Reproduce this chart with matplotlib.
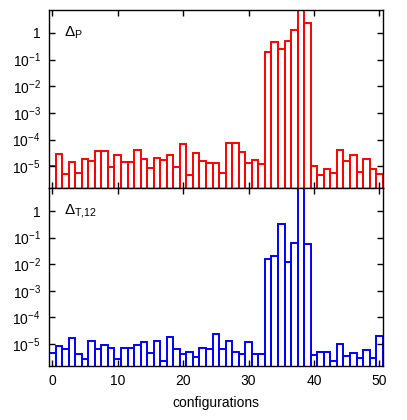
import matplotlib
matplotlib.use("Agg")
import matplotlib.pyplot as plt
from matplotlib.ticker import FixedLocator, FuncFormatter, NullLocator
import numpy as np

plt.rcParams['font.family'] = ['Liberation Sans', 'DejaVu Sans']
plt.rcParams['mathtext.fontset'] = 'custom'
plt.rcParams['mathtext.rm'] = 'Liberation Sans'
plt.rcParams['mathtext.it'] = 'Liberation Sans:italic'
plt.rcParams['mathtext.bf'] = 'Liberation Sans:bold'

configs = list(range(51))

# log10 of the values
log_delta_p = [-5.0, -4.54, -5.3, -4.85, -5.24, -4.71, -4.8, -4.44, -4.44, -5.01,
               -4.59, -4.85, -4.85, -4.39, -4.71, -5.06, -4.69, -4.75, -4.56, -5.04,
               -4.16, -5.33, -4.5, -4.78, -4.88, -4.875, -5.26, -4.11, -4.11, -4.475,
               -4.875, -4.75, -4.925, -0.71, -0.34, -0.59, -0.3, 0.1, 1.0, 0.375,
               -4.99, -5.34, -5.09, -5.23, -4.39, -4.8, -4.575, -5.2, -4.71, -5.09,
               -5.275]
log_delta_t12 = [-5.34, -5.09, -5.19, -4.78, -5.375, -5.56, -4.9, -5.19, -5.04, -5.15,
                 -5.56, -5.16, -5.16, -5.06, -4.94, -5.36, -4.9, -5.65, -4.74, -5.21,
                 -5.375, -5.29, -5.49, -5.15, -5.19, -4.61, -5.21, -4.9, -5.3, -5.375,
                 -4.925, -5.375, -5.39, -1.79, -1.69, -0.475, -1.9, -1.19, 1.0, -1.225,
                 -5.425, -5.31, -5.31, -5.65, -5.0, -5.46, -5.35, -5.55, -5.225, -5.525,
                 -4.71]
delta_p = [10 ** v for v in log_delta_p]
delta_t12 = [10 ** v for v in log_delta_t12]

panel_labels = [r'$\Delta_{\mathrm{P}}$', r'$\Delta_{\mathrm{T{,}12}}$']
colors = ['#ff0000', '#0000ff']
ytick_vals = [1e-5, 1e-4, 1e-3, 1e-2, 1e-1, 1]
xtick_vals = [0, 10, 20, 30, 40, 50]

W, H = 407, 420
fig = plt.figure(figsize=(W / 100, H / 100), dpi=100)
left, right = 49 / W, 382.7 / W
ax_top = fig.add_axes([left, 1 - 188.3 / H, right - left, (188.3 - 10) / H])
ax_bot = fig.add_axes([left, 1 - 365.7 / H, right - left, (365.7 - 188.3) / H])


def yfmt(v, pos):
    e = int(round(np.log10(v)))
    if e == 0:
        return '1'
    return r'$\mathregular{10^{%d}}$' % e


for ax, vals, col, lab in zip([ax_top, ax_bot], [delta_p, delta_t12], colors, panel_labels):
    ax.set_yscale('log')
    ax.bar(configs, vals, width=1.0, bottom=1e-8, fill=False,
           edgecolor=col, linewidth=1.4, align='center')
    ax.set_xlim(-0.5, 50.5)
    ax.set_ylim(10 ** -5.82, 10 ** 0.855)
    ax.yaxis.set_major_locator(FixedLocator(ytick_vals))
    ax.yaxis.set_minor_locator(NullLocator())
    ax.yaxis.set_major_formatter(FuncFormatter(yfmt))
    ax.xaxis.set_major_locator(FixedLocator(xtick_vals))
    ax.tick_params(direction='in', length=4, width=1, top=True, right=True,
                   labelsize=10, pad=6)
    for s in ax.spines.values():
        s.set_linewidth(1)
    ax.text(0.045, 0.87, lab, transform=ax.transAxes, fontsize=11,
            ha='left', va='center')

ax_top.tick_params(labelbottom=False)
ax_bot.set_xlabel('configurations', fontsize=10, labelpad=6)

fig.savefig('out.png', dpi=100)
